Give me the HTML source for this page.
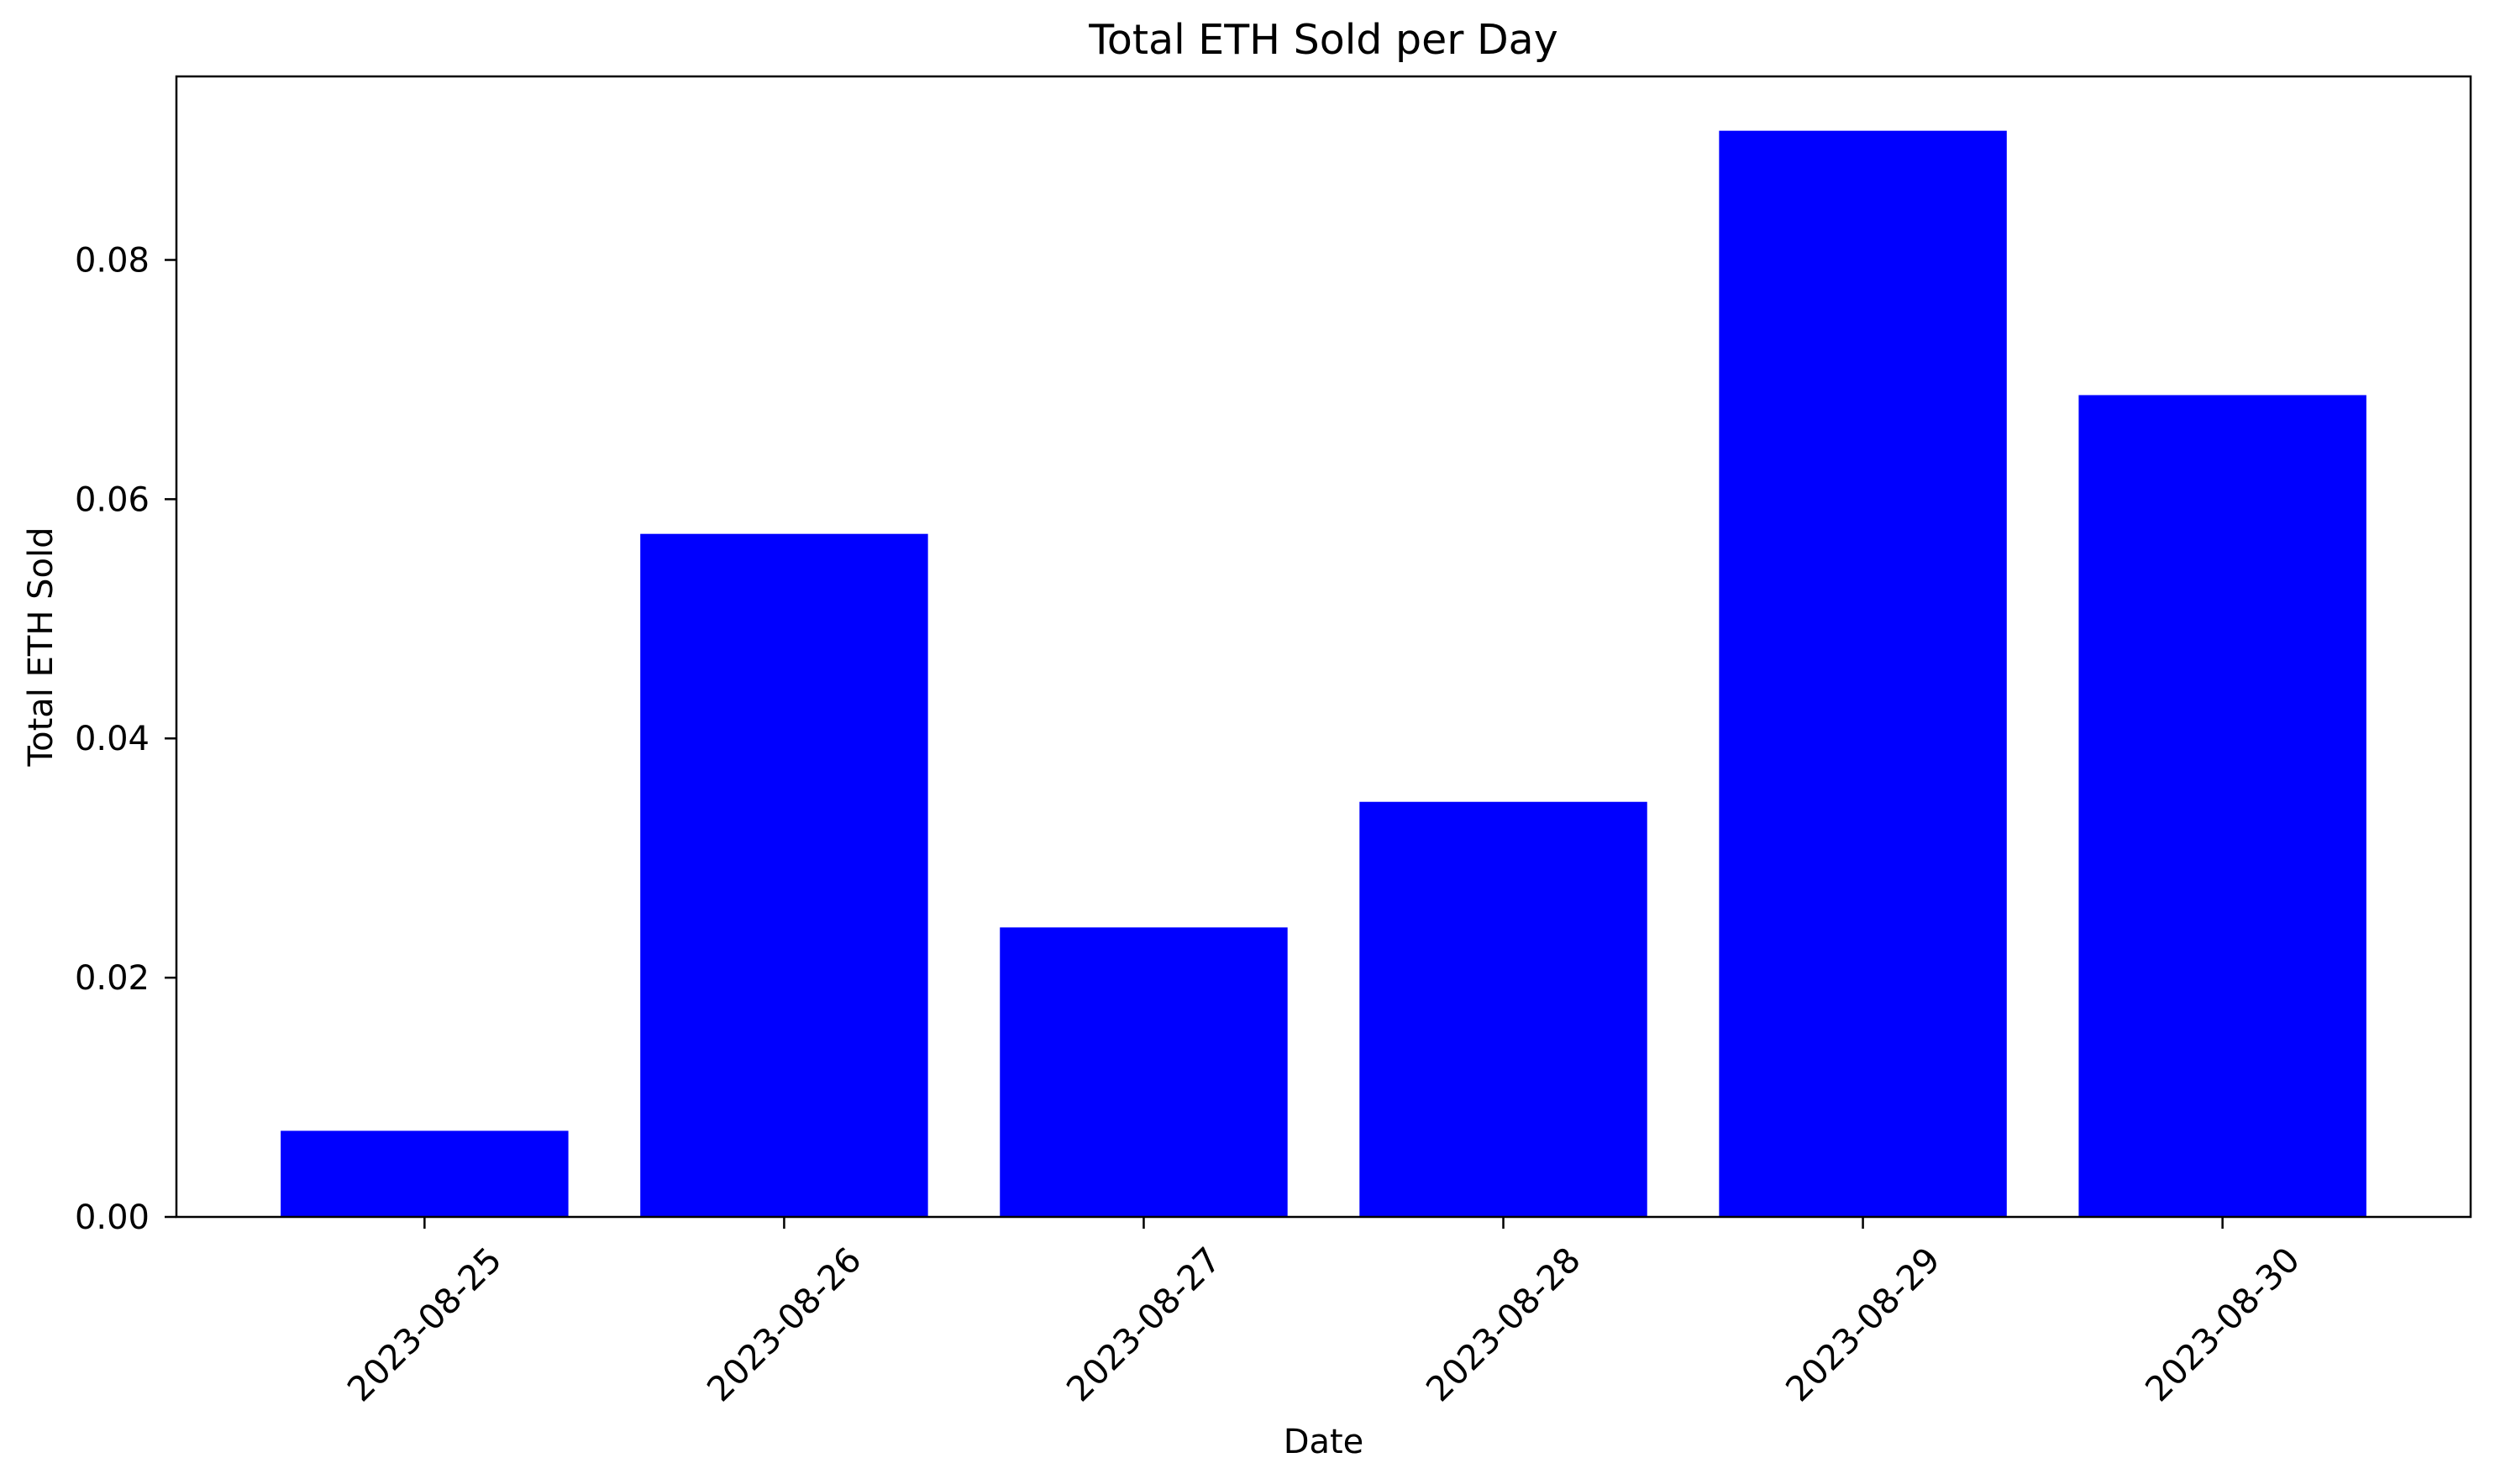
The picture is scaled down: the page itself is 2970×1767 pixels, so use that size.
<!DOCTYPE html>
<html><head><meta charset="utf-8"><style>body{margin:0;background:#fff}svg{display:block;font-family:"DejaVu Sans","Liberation Sans",sans-serif}</style></head>
<body>
<svg width="2970" height="1767" viewBox="0 0 2970 1767">
<rect width="2970" height="1767" fill="#fff"/>
<g id="bars"></g><g id="axes"></g>
</svg>
<script>
const categories = ["2023-08-25","2023-08-26","2023-08-27","2023-08-28","2023-08-29","2023-08-30"];
const values = [0.0072, 0.0571, 0.0242, 0.0347, 0.0908, 0.0687];
const yTicks = [0, 0.02, 0.04, 0.06, 0.08];
const yTickLabels = ["0.00","0.02","0.04","0.06","0.08"];

const L=210,T=91,R=2941,B=1449;
const NS="http://www.w3.org/2000/svg";
const ymax=Math.max(...values)*1.05;
const xmin=-0.4-0.05*(categories.length-0.2), xmax=categories.length-1+0.4+0.05*(categories.length-0.2);
const xs=i=>L+(i-xmin)/(xmax-xmin)*(R-L);
const ys=v=>B-v/ymax*(B-T);
const bw=0.8*(R-L)/(xmax-xmin);
function mk(tag,attrs,parent){const e=document.createElementNS(NS,tag);for(const k in attrs)e.setAttribute(k,attrs[k]);parent.appendChild(e);return e;}
const gb=document.getElementById('bars'), ga=document.getElementById('axes');
values.forEach((v,i)=>{
  const r=mk('rect',{x:xs(i)-bw/2,y:ys(v),width:bw,height:B-ys(v),fill:'#0000ff'},gb);
  
  
});
const frame=mk('rect',{x:L,y:T,width:R-L,height:B-T,fill:'none',stroke:'#000','stroke-width':2.5},ga);


yTicks.forEach((t,i)=>{
  const y=ys(t);
  const tk=mk('line',{x1:L-14,x2:L,y1:y,y2:y,stroke:'#000','stroke-width':2.5},ga);
  
  
  const tx=mk('text',{x:L-32,y:y+14,'text-anchor':'end','font-size':40},ga);
  tx.textContent=yTickLabels[i];
  
  
});
categories.forEach((c,i)=>{
  const x=xs(i);
  const tk=mk('line',{x1:x,x2:x,y1:B,y2:B+14,stroke:'#000','stroke-width':2.5},ga);
  
  
  const cy=1577;
  const tx=mk('text',{x:x,y:cy+14,'text-anchor':'middle','font-size':41,transform:`rotate(-45 ${x} ${cy})`},ga);
  tx.textContent=c;
  
  
});
const title=mk('text',{x:(L+R)/2,y:64,'text-anchor':'middle','font-size':49},ga);
title.textContent='Total ETH Sold per Day';


const xl=mk('text',{x:(L+R)/2,y:1730,'text-anchor':'middle','font-size':40},ga);
xl.textContent='Date';


const yl=mk('text',{x:62,y:(T+B)/2,'text-anchor':'middle','font-size':40,transform:`rotate(-90 62 ${(T+B)/2})`},ga);
yl.textContent='Total ETH Sold';


</script>
</body></html>
